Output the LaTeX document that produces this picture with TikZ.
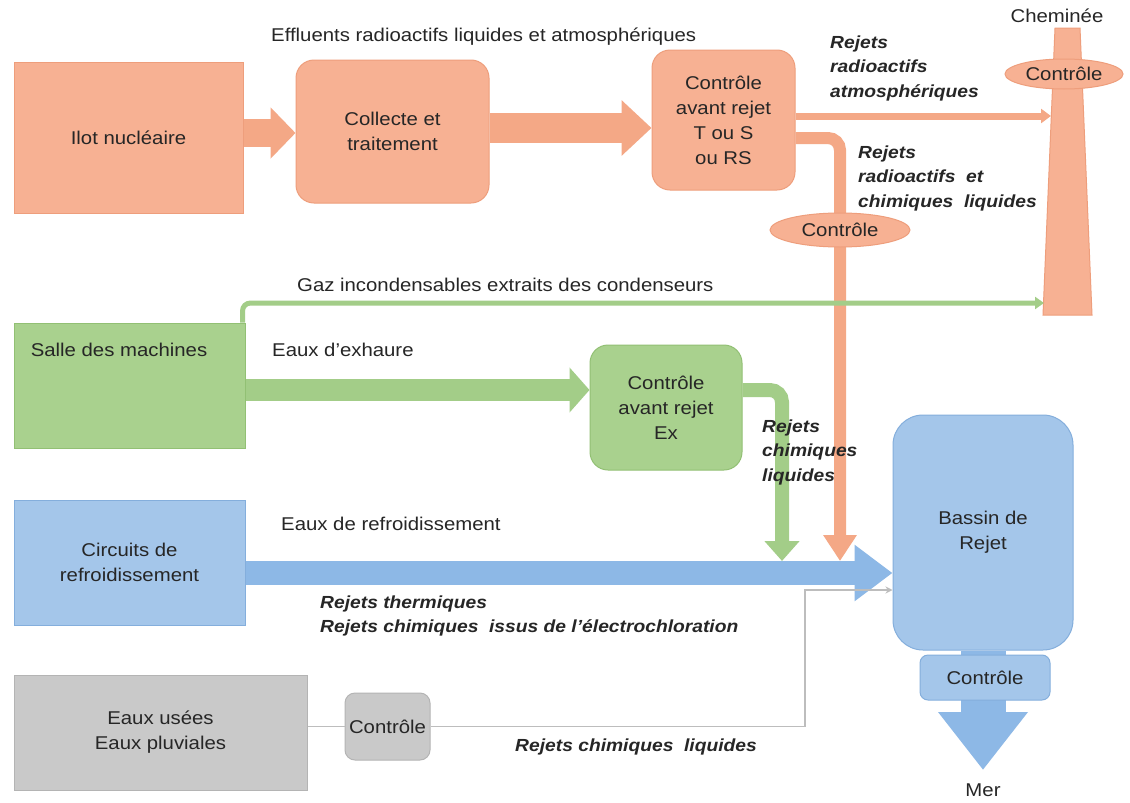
\documentclass[tikz,border=0pt]{standalone}
\usepackage{fontspec}
\setmainfont{Liberation Sans}[FakeStretch=1.1]
\usetikzlibrary{arrows.meta,shapes.geometric}
\definecolor{orF}{HTML}{F7B193}
\definecolor{orD}{HTML}{EE9E7C}
\definecolor{orA}{HTML}{F4A886}
\definecolor{grF}{HTML}{A9D18E}
\definecolor{grD}{HTML}{92C074}
\definecolor{grA}{HTML}{A3CD88}
\definecolor{blF}{HTML}{A4C6EA}
\definecolor{blD}{HTML}{84AEDC}
\definecolor{blA}{HTML}{8DB8E6}
\definecolor{gyF}{HTML}{C9C9C9}
\definecolor{gyD}{HTML}{B4B4B4}
\definecolor{gyL}{HTML}{BDBDBD}
\definecolor{txt}{HTML}{262626}
\begin{document}
\begin{tikzpicture}[x=1pt,y=-1pt,
  every node/.style={font=\fontsize{18.5}{25}\selectfont, text=txt},
  lbl/.style={anchor=west, inner sep=0pt},
  rej/.style={anchor=west, inner sep=0pt, align=left,
    font=\fontsize{17.5}{24.5}\selectfont\bfseries\itshape},
  box/.style={draw=#1D, fill=#1F, line width=1pt, inner sep=0pt, align=center},
  rbox/.style={box=#1, rounded corners=18pt},
]
\fill[white] (0,0) rectangle (1130,803);
\useasboundingbox (0,0) rectangle (1130,803);

% ---------- nodes ----------
\node[box=or, minimum width=229pt, minimum height=151pt] (ilot) at (128.5,137.5) {Ilot nucléaire};
\node[rbox=or, minimum width=193pt, minimum height=143pt] (collecte) at (392.5,131.5) {Collecte et\\traitement};
\node[rbox=or, minimum width=143pt, minimum height=140pt] (ctrl1) at (723.5,120) {Contrôle\\avant rejet\\T ou S\\ou RS};
\node[box=gr, minimum width=231pt, minimum height=125pt] (salle) at (129.5,385.5) {};
\node[inner sep=0pt] (salletxt) at (119,350) {Salle des machines};
\node[rbox=gr, minimum width=152pt, minimum height=125pt] (ex) at (666,407.5) {Contrôle\\avant rejet\\Ex};
\node[box=bl, minimum width=231pt, minimum height=125pt] (circ) at (129.5,562.5) {Circuits de\\refroidissement};
\node[box=bl, rounded corners=30pt, minimum width=180pt, minimum height=235pt] (bassin) at (983,532.5) {Bassin de\\Rejet};
\node[box=gy, minimum width=293pt, minimum height=115pt] (usees) at (160.5,732.5) {Eaux usées\\Eaux pluviales};
\node[box=gy, rounded corners=10pt, minimum width=85pt, minimum height=67pt] (ctrlg) at (387.5,726.5) {Contrôle};

% chimney
\fill[orF, draw=orD, line width=1pt] (1055,28) -- (1080,28) -- (1092,315) -- (1043,315) -- cycle;
\coordinate (chimatm) at (1051,116);
\coordinate (gazend) at (1044,303);
\node[inner sep=0pt] (chemtxt) at (1057,16) {Cheminée};
\node[ellipse, draw=orD, fill=orF, line width=1pt, minimum width=118pt, minimum height=30pt, inner sep=0pt] (ctrlch) at (1064,74) {Contrôle};

% ---------- coordinates ----------
\coordinate (a1) at (0,133);
\coordinate (a2) at (0,128);
\coordinate (ye) at (0,390);
\coordinate (yb) at (0,573);
\coordinate (liqend) at (840,561);
\coordinate (grend) at (782,561);
\coordinate (gc1) at (805,726.5);
\coordinate (gc2) at (805,590);
\coordinate (mer) at (983,770);

% ---------- connectors ----------
\draw[orA, line width=28pt, -{Triangle[length=25pt,width=50pt]}] (ilot.east |- a1) -- (collecte.west |- a1);
\draw[orA, line width=30pt, -{Triangle[length=30pt,width=54pt]}] (collecte.east |- a2) -- (ctrl1.west |- a2);
\draw[orA, line width=7pt, -{Triangle[length=10pt,width=14pt]}] ([yshift=4pt]ctrl1.east) -- (chimatm);
\draw[orA, line width=12pt, rounded corners=12pt, -{Triangle[length=26pt,width=32pt]}] ([yshift=-18pt]ctrl1.east) -| (liqend);
\node[ellipse, draw=orD, fill=orF, line width=1pt, minimum width=140pt, minimum height=34pt, inner sep=0pt] (ctrlliq) at (840,230) {Contrôle};

\draw[grA, line width=5pt, rounded corners=8pt, -{Triangle[length=9pt,width=12pt]}] ([xshift=-3pt]salle.north east) |- (gazend);
\draw[grA, line width=22pt, -{Triangle[length=20pt,width=44pt]}] (salle.east |- ye) -- (ex.west |- ye);
\draw[grA, line width=14pt, rounded corners=12pt, -{Triangle[length=20pt,width=34pt]}] (ex.east |- ye) -| (grend);

\draw[blA, line width=24pt, -{Triangle[length=38pt,width=54pt]}] (circ.east |- yb) -- (bassin.west |- yb);
\draw[blA, line width=45pt, -{Triangle[length=58pt,width=86pt]}] (bassin.south) -- (mer);
\node[box=bl, rounded corners=8pt, minimum width=130pt, minimum height=45pt] (ctrlb) at (985,677.5) {Contrôle};

\draw[gyL, line width=1.5pt] (ctrlg.west -| usees.east) -- (ctrlg.west);
\draw[gyL, line width=1.5pt, -{Stealth[length=7pt,width=7pt]}] (ctrlg.east) -- (gc1) -- (gc2) -- (bassin.west |- gc2);

% ---------- labels ----------
\node[lbl] (leff) at (271,37) {Effluents radioactifs liquides et atmosphériques};
\node[rej] (lra) at (830,68) {Rejets\\radioactifs\\atmosphériques};
\node[rej] (lrl) at (858,178) {Rejets\\radioactifs\hspace{0.3em} et\\chimiques\hspace{0.3em} liquides};
\node[lbl] (lgaz) at (297,285) {Gaz incondensables extraits des condenseurs};
\node[lbl] (lex) at (272,350) {Eaux d’exhaure};
\node[rej] (lrc) at (762,452) {Rejets\\chimiques\\liquides};
\node[lbl] (lref) at (281,524) {Eaux de refroidissement};
\node[rej] (lth) at (320,616) {Rejets thermiques\\Rejets chimiques\hspace{0.3em} issus de l’électrochloration};
\node[rej] (lrcl) at (515,747) {Rejets chimiques\hspace{0.3em} liquides};
\node[inner sep=0pt] (mertxt) at (983,790) {Mer};
\end{tikzpicture}
\end{document}
